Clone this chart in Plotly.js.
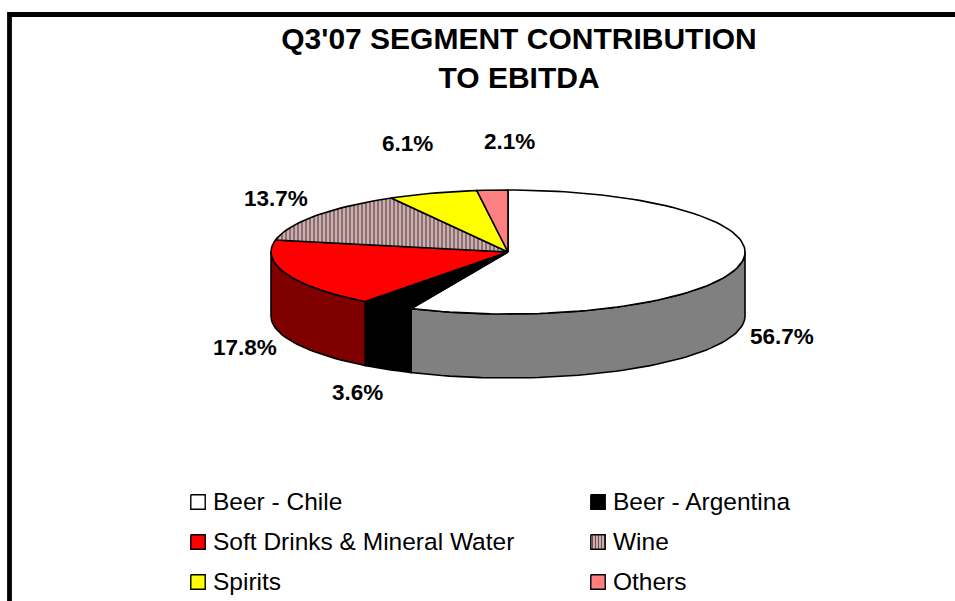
<!DOCTYPE html>
<html>
<head>
<meta charset="utf-8">
<script src="https://cdn.plot.ly/plotly-3.0.1.min.js"></script>
<style>html,body{margin:0;padding:0;background:#fff;overflow:hidden}#chart{width:955px;height:601px}</style>
</head>
<body>
<div id="chart"></div>
<script>
var categories = ["Beer - Chile", "Beer - Argentina", "Soft Drinks & Mineral Water", "Wine", "Spirits", "Others"];
var shares = [56.7, 3.6, 17.8, 13.7, 6.1, 2.1];
var topColors = ["#ffffff", "#000000", "#ff0000", "#b8b8b8", "#ffff00", "#ff8080"];
var sideColors = ["#808080", "#000000", "#800000", "#808080", "#808080", "#808080"];
var percentLabels = ["56.7%", "3.6%", "17.8%", "13.7%", "6.1%", "2.1%"];

// Presentation geometry (page pixels)
var CX = 508, CY = 252, RX = 237, RY = 62, DEPTH = 64;
var labelAt = [[782, 336], [357, 392], [245, 347], [276, 198], [407, 143], [509, 141]];
var legendAt = [[198, 502], [598, 502], [198, 542], [598, 542], [198, 582], [598, 582]];
var SWATCH = 7.2;
var edge = {color: "#000000", width: 1.6};

function rim(deg, dy) {
  var a = deg * Math.PI / 180;
  return [CX + RX * Math.sin(a), CY - RY * Math.cos(a) + (dy || 0)];
}
function arc(from, to, dy) {
  var pts = [], n = Math.max(2, Math.ceil(Math.abs(to - from) / 2));
  for (var i = 0; i <= n; i++) pts.push(rim(from + (to - from) * i / n, dy));
  return pts;
}
function patternFor(i, size) {
  if (categories[i] !== "Wine") return undefined;
  return {shape: "|", bgcolor: "#b8b8b8", fgcolor: "#800000", size: size, solidity: 0.22, fillmode: "replace"};
}
function polygon(pts, color, line, name, pattern) {
  var t = {
    type: "scatter", mode: "lines", name: name, showlegend: false, hoverinfo: "skip",
    x: pts.map(function (p) { return p[0]; }),
    y: pts.map(function (p) { return p[1]; }),
    fill: "toself", fillcolor: color, line: line
  };
  if (pattern) t.fillpattern = pattern;
  return t;
}

var traces = [], tops = [], cum = 0;
shares.forEach(function (v, i) {
  var start = cum * 3.6, end = (cum + v) * 3.6;
  cum += v;
  var s = Math.max(start, 90), e = Math.min(end, 270);
  if (e > s) {
    var wall = arc(s, e, 0).concat(arc(e, s, DEPTH));
    wall.push(wall[0]);
    traces.push(polygon(wall, sideColors[i], edge, categories[i] + " side"));
  }
  var top = [[CX, CY]].concat(arc(start, end, 0));
  top.push([CX, CY]);
  tops.push(polygon(top, topColors[i], edge, categories[i], patternFor(i, 4)));
});
traces = traces.concat(tops);

legendAt.forEach(function (c, i) {
  var box = [[c[0] - SWATCH, c[1] - SWATCH], [c[0] + SWATCH, c[1] - SWATCH],
             [c[0] + SWATCH, c[1] + SWATCH], [c[0] - SWATCH, c[1] + SWATCH], [c[0] - SWATCH, c[1] - SWATCH]];
  traces.push(polygon(box, topColors[i], {color: "#000000", width: 1.4}, categories[i] + " key", patternFor(i, 3)));
});

var annotations = [];
labelAt.forEach(function (p, i) {
  annotations.push({x: p[0], y: p[1], xref: "x", yref: "y", text: "<b>" + percentLabels[i] + "</b>", showarrow: false,
    xanchor: "center", yanchor: "middle", font: {family: "Liberation Sans", size: 22.5, color: "#000000"}});
});
legendAt.forEach(function (c, i) {
  annotations.push({x: c[0] + 16, y: c[1] - 1, xref: "x", yref: "y", text: categories[i], showarrow: false,
    xanchor: "left", yanchor: "middle", xshift: -3, font: {family: "Liberation Sans", size: 24.5, color: "#000000"}});
});

var layout = {
  width: 955, height: 601,
  margin: {l: 0, r: 0, t: 0, b: 0},
  paper_bgcolor: "#ffffff", plot_bgcolor: "#ffffff",
  showlegend: false, dragmode: false,
  title: {
    text: "<b>Q3'07 SEGMENT CONTRIBUTION<br>TO EBITDA</b>",
    x: 519 / 955, xanchor: "center", y: 1 - 49 / 601, yanchor: "middle",
    font: {family: "Liberation Sans", size: 30, color: "#000000"}
  },
  xaxis: {range: [0, 955], visible: false, fixedrange: true},
  yaxis: {range: [601, 0], visible: false, fixedrange: true},
  shapes: [{type: "rect", xref: "x", yref: "y", x0: 9.5, y0: 14.5, x1: 980, y1: 640,
    line: {color: "#000000", width: 4.8}, fillcolor: "rgba(0,0,0,0)", layer: "below"}],
  annotations: annotations
};
Plotly.newPlot("chart", traces, layout, {displayModeBar: false, staticPlot: true});
</script>
</body>
</html>
